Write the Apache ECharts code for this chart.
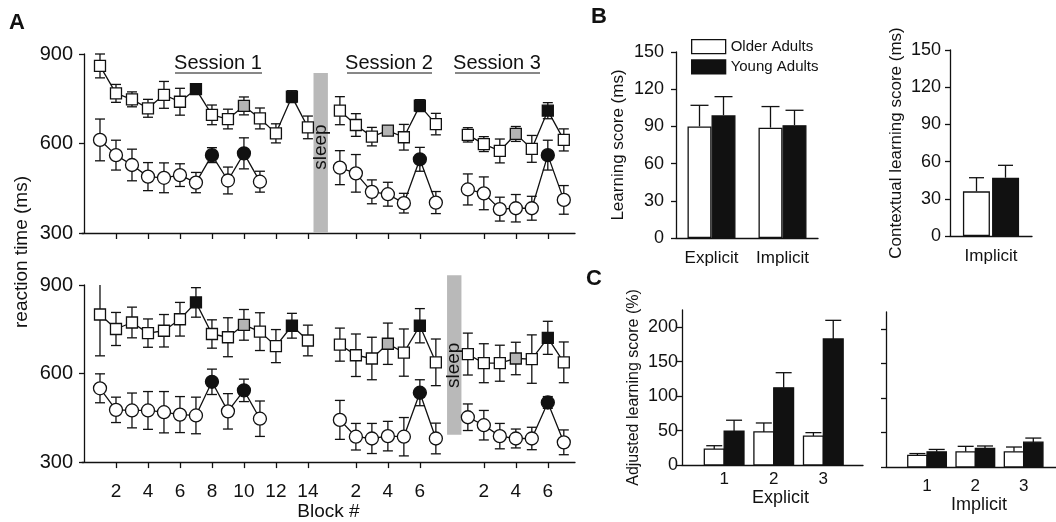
<!DOCTYPE html>
<html>
<head>
<meta charset="utf-8">
<script src="https://cdn.jsdelivr.net/npm/echarts@6/dist/echarts.min.js"></script>
<style>
  html, body { margin: 0; padding: 0; background: #fff; }
  #chart { width: 1056px; height: 522px; }
</style>
</head>
<body>
<div id="chart"></div>
<script>
// ---- data ----
// panel A: reaction time per block, squares (upper curve) and circles (lower curve)
const topSquareS1 = [860, 768, 748, 718, 763, 740, 782, 696, 682, 726, 684, 634, 757, 654];
const topSquareS1Err = [40, 30, 25, 30, 45, 45, 10, 33, 33, 30, 35, 32, 20, 38];
const topSquareS2 = [710, 662, 623, 643, 621, 727, 665];
const topSquareS2Err = [47, 38, 31, 15, 43, 20, 36];
const topSquareS3 = [629, 598, 575, 632, 582, 710, 612];
const topSquareS3Err = [24, 25, 40, 25, 45, 27, 37];
const topCircleS1 = [612, 561, 528, 489, 485, 494, 469, 561, 476, 567, 472];
const topCircleS1Err = [70, 50, 53, 47, 50, 38, 34, 25, 45, 52, 35];
const topCircleS2 = [519, 500, 438, 430, 400, 547, 402];
const topCircleS2Err = [57, 63, 40, 40, 33, 40, 37];
const topCircleS3 = [446, 433, 380, 383, 383, 561, 411];
const topCircleS3Err = [52, 55, 40, 46, 40, 50, 48];

const botSquareS1 = [800, 751, 773, 737, 745, 784, 841, 734, 723, 765, 742, 693, 762, 712];
const botSquareS1Err = [140, 56, 52, 48, 55, 57, 50, 48, 66, 52, 64, 56, 42, 52];
const botSquareS2 = [698, 662, 651, 701, 671, 762, 638];
const botSquareS2Err = [56, 72, 72, 70, 80, 58, 79];
const botSquareS3 = [666, 635, 635, 651, 649, 721, 638];
const botSquareS3Err = [71, 66, 61, 55, 82, 56, 69];
const botCircleS1 = [550, 477, 475, 475, 469, 461, 458, 572, 472, 543, 447];
const botCircleS1Err = [49, 43, 59, 64, 70, 61, 62, 43, 60, 38, 60];
const botCircleS2 = [443, 386, 380, 388, 386, 535, 380];
const botCircleS2Err = [66, 45, 51, 50, 65, 44, 52];
const botCircleS3 = [452, 425, 388, 380, 380, 502, 367];
const botCircleS3Err = [45, 50, 43, 32, 38, 20, 42];

// marker fill per block: o = open, b = black, g = grey
const squareFillS1 = ['o', 'o', 'o', 'o', 'o', 'o', 'b', 'o', 'o', 'g', 'o', 'o', 'b', 'o'];
const circleFillS1 = ['o', 'o', 'o', 'o', 'o', 'o', 'o', 'b', 'o', 'b', 'o'];
const squareFillS23 = ['o', 'o', 'o', 'g', 'o', 'b', 'o'];
const circleFillS23 = ['o', 'o', 'o', 'o', 'o', 'b', 'o'];

const blockTicks = [2, 4, 6, 8, 10, 12, 14];
const blockTicksShort = [2, 4, 6];

// panel B
const groupNames = ['Older Adults', 'Young Adults'];
const learnCats = ['Explicit', 'Implicit'];
const learnOlder = [90, 89];
const learnOlderErr = [17, 17];
const learnYoung = [99, 91];
const learnYoungErr = [15, 12];
const contextCats = ['Implicit'];
const contextOlder = [36];
const contextOlderErr = [11];
const contextYoung = [47];
const contextYoungErr = [10];

// panel C
const adjCats = [1, 2, 3];
const explicitOlder = [23, 48, 42];
const explicitOlderErr = [5, 13, 5];
const explicitYoung = [49, 112, 183];
const explicitYoungErr = [16, 22, 27];
const implicitOlder = [17, 22, 22];
const implicitOlderErr = [2.5, 8, 7];
const implicitYoung = [22, 27, 36];
const implicitYoungErr = [3.5, 3.5, 6];

// ---- layout / style ----
const FONT = "'Liberation Sans', Arial, Helvetica, sans-serif";
const INK = '#111';
const FILLS = { o: '#fff', b: '#111', g: '#b4b4b4' };
const sessionOffset = [0, 15, 23];   // sessions share one block axis, with gaps
const sleepTop = { x0: 14.35, x1: 15.25, lo: 300, hi: 836, textAt: 588 };
const sleepBottom = { x0: 22.7, x1: 23.6, lo: 393, hi: 933, textAt: 628 };

function blockPositions() {
  const pos = [];
  blockTicks.forEach(b => pos.push(b + sessionOffset[0]));
  blockTicksShort.forEach(b => pos.push(b + sessionOffset[1]));
  blockTicksShort.forEach(b => pos.push(b + sessionOffset[2]));
  return pos;
}
function blockLabel(pos) {
  if (pos > sessionOffset[2]) return String(pos - sessionOffset[2]);
  if (pos > sessionOffset[1]) return String(pos - sessionOffset[1]);
  return String(pos);
}

function lineSeries(axis, shape, session, means, fills) {
  return {
    type: 'line', xAxisIndex: axis, yAxisIndex: axis, z: 3,
    symbol: shape, symbolSize: shape === 'rect' ? 11 : 13,
    lineStyle: { color: INK, width: 1.3 },
    itemStyle: { color: '#fff', borderColor: INK, borderWidth: 1.3 },
    data: means.map((v, i) => ({
      value: [sessionOffset[session] + i + 1, v],
      itemStyle: { color: FILLS[fills[i]], borderColor: INK, borderWidth: 1.3 }
    }))
  };
}

// symmetric error bars for panel A, clipped at the top of the plot
function errSeries(axis, session, means, errs) {
  return {
    type: 'custom', xAxisIndex: axis, yAxisIndex: axis, z: 2,
    data: means.map((v, i) => [sessionOffset[session] + i + 1, v, errs[i]]),
    renderItem: function (params, api) {
      const x = api.value(0), m = api.value(1), e = api.value(2);
      const hi = api.coord([x, m + e]);
      const lo = api.coord([x, m - e]);
      const cs = params.coordSys;
      let yTop = hi[1], capTop = true;
      if (yTop < cs.y) { yTop = cs.y; capTop = false; }
      const st = { stroke: INK, lineWidth: 1.3 };
      const kids = [
        { type: 'line', shape: { x1: hi[0], y1: yTop, x2: lo[0], y2: lo[1] }, style: st },
        { type: 'line', shape: { x1: lo[0] - 5, y1: lo[1], x2: lo[0] + 5, y2: lo[1] }, style: st }
      ];
      if (capTop) kids.push({ type: 'line', shape: { x1: hi[0] - 5, y1: yTop, x2: hi[0] + 5, y2: yTop }, style: st });
      return { type: 'group', children: kids };
    }
  };
}

function sleepSeries(axis, s) {
  return {
    type: 'custom', xAxisIndex: axis, yAxisIndex: axis, z: 1,
    data: [[s.x0, s.x1, s.lo, s.hi, s.textAt]],
    renderItem: function (params, api) {
      const p0 = api.coord([api.value(0), api.value(3)]);
      const p1 = api.coord([api.value(1), api.value(2)]);
      const ty = api.coord([api.value(0), api.value(4)])[1];
      return {
        type: 'group',
        children: [
          { type: 'rect', shape: { x: p0[0], y: p0[1], width: p1[0] - p0[0], height: p1[1] - p0[1] },
            style: { fill: '#b9b9b9' } },
          { type: 'text', x: (p0[0] + p1[0]) / 2, y: ty, rotation: Math.PI / 2,
            style: { text: 'sleep', fill: INK, font: '19px ' + FONT, align: 'center', verticalAlign: 'middle' } }
        ]
      };
    }
  };
}

// one-sided error bars on top of bars; side = -1 (left bar) or +1 (right bar)
function barErrSeries(axis, values, errs, side, barW, capW) {
  return {
    type: 'custom', xAxisIndex: axis, yAxisIndex: axis, z: 1,
    data: values.map((v, i) => [i, v, errs[i]]),
    renderItem: function (params, api) {
      const top = api.coord([api.value(0), api.value(1)]);
      const end = api.coord([api.value(0), api.value(1) + api.value(2)]);
      const cx = top[0] + side * barW / 2;
      const st = { stroke: INK, lineWidth: 1.3 };
      return {
        type: 'group',
        children: [
          { type: 'line', shape: { x1: cx, y1: top[1], x2: cx, y2: end[1] }, style: st },
          { type: 'line', shape: { x1: cx - capW / 2, y1: end[1], x2: cx + capW / 2, y2: end[1] }, style: st }
        ]
      };
    }
  };
}

// bars for panel C drawn on a numeric x axis; width given in axis units
function adjBarSeries(axis, values, errs, side, fill) {
  const W = 0.4;
  return {
    type: 'custom', xAxisIndex: axis, yAxisIndex: axis, z: 2,
    data: values.map((v, i) => [adjCats[i], v, errs[i]]),
    renderItem: function (params, api) {
      const c = api.value(0), v = api.value(1), e = api.value(2);
      const x0 = side < 0 ? c - W : c, x1 = side < 0 ? c : c + W;
      const a = api.coord([x0, v]);
      const b = api.coord([x1, 0]);
      const t = api.coord([(x0 + x1) / 2, v + e]);
      const cx = (a[0] + b[0]) / 2;
      const st = { stroke: INK, lineWidth: 1.3 };
      return {
        type: 'group',
        children: [
          { type: 'line', shape: { x1: cx, y1: a[1], x2: cx, y2: t[1] }, style: st },
          { type: 'line', shape: { x1: cx - 8, y1: t[1], x2: cx + 8, y2: t[1] }, style: st },
          { type: 'rect', shape: { x: a[0], y: a[1], width: b[0] - a[0], height: b[1] - a[1] },
            style: { fill: fill, stroke: INK, lineWidth: 1.3 } }
        ]
      };
    }
  };
}

const axisLine = { show: true, lineStyle: { color: INK, width: 1.3 } };
const tickOut = { show: true, inside: false, length: 5, lineStyle: { color: INK, width: 1.3 } };
const lbl = (size, margin) => ({ color: INK, fontSize: size, fontFamily: FONT, margin: margin });

function rtY(idx) {
  return {
    type: 'value', gridIndex: idx, min: 300, max: 900, interval: 300,
    axisLine: axisLine, axisTick: tickOut, splitLine: { show: false },
    axisLabel: lbl(20, 9)
  };
}
function rtX(idx, withLabels) {
  const pos = blockPositions();
  return {
    type: 'value', gridIndex: idx, min: -0.125, max: 30.7,
    axisLine: axisLine, splitLine: { show: false },
    axisTick: Object.assign({}, tickOut, { length: 6, customValues: pos }),
    axisLabel: Object.assign(lbl(19, 20), { show: withLabels, customValues: pos, formatter: blockLabel })
  };
}

const chart = echarts.init(document.getElementById('chart'), null, { renderer: 'canvas' });

const series = [
  sleepSeries(0, sleepTop),
  sleepSeries(1, sleepBottom),

  errSeries(0, 0, topSquareS1, topSquareS1Err),
  errSeries(0, 1, topSquareS2, topSquareS2Err),
  errSeries(0, 2, topSquareS3, topSquareS3Err),
  errSeries(0, 0, topCircleS1, topCircleS1Err),
  errSeries(0, 1, topCircleS2, topCircleS2Err),
  errSeries(0, 2, topCircleS3, topCircleS3Err),
  lineSeries(0, 'rect', 0, topSquareS1, squareFillS1),
  lineSeries(0, 'rect', 1, topSquareS2, squareFillS23),
  lineSeries(0, 'rect', 2, topSquareS3, squareFillS23),
  lineSeries(0, 'circle', 0, topCircleS1, circleFillS1),
  lineSeries(0, 'circle', 1, topCircleS2, circleFillS23),
  lineSeries(0, 'circle', 2, topCircleS3, circleFillS23),

  errSeries(1, 0, botSquareS1, botSquareS1Err),
  errSeries(1, 1, botSquareS2, botSquareS2Err),
  errSeries(1, 2, botSquareS3, botSquareS3Err),
  errSeries(1, 0, botCircleS1, botCircleS1Err),
  errSeries(1, 1, botCircleS2, botCircleS2Err),
  errSeries(1, 2, botCircleS3, botCircleS3Err),
  lineSeries(1, 'rect', 0, botSquareS1, squareFillS1),
  lineSeries(1, 'rect', 1, botSquareS2, squareFillS23),
  lineSeries(1, 'rect', 2, botSquareS3, squareFillS23),
  lineSeries(1, 'circle', 0, botCircleS1, circleFillS1),
  lineSeries(1, 'circle', 1, botCircleS2, circleFillS23),
  lineSeries(1, 'circle', 2, botCircleS3, circleFillS23),

  // panel B
  { type: 'bar', name: groupNames[0], xAxisIndex: 2, yAxisIndex: 2, data: learnOlder, barWidth: 24, barGap: '0%', z: 2,
    itemStyle: { color: '#fff', borderColor: INK, borderWidth: 1.3 } },
  { type: 'bar', name: groupNames[1], xAxisIndex: 2, yAxisIndex: 2, data: learnYoung, barWidth: 24, barGap: '0%', z: 2,
    itemStyle: { color: INK, borderColor: INK, borderWidth: 1.3 } },
  barErrSeries(2, learnOlder, learnOlderErr, -1, 24, 18),
  barErrSeries(2, learnYoung, learnYoungErr, 1, 24, 18),
  { type: 'bar', name: groupNames[0], xAxisIndex: 3, yAxisIndex: 3, data: contextOlder, barWidth: 27, barGap: '8%', z: 2,
    itemStyle: { color: '#fff', borderColor: INK, borderWidth: 1.3 } },
  { type: 'bar', name: groupNames[1], xAxisIndex: 3, yAxisIndex: 3, data: contextYoung, barWidth: 27, barGap: '8%', z: 2,
    itemStyle: { color: INK, borderColor: INK, borderWidth: 1.3 } },
  barErrSeries(3, contextOlder, contextOlderErr, -1, 29, 15),
  barErrSeries(3, contextYoung, contextYoungErr, 1, 29, 15),

  // panel C
  adjBarSeries(4, explicitOlder, explicitOlderErr, -1, '#fff'),
  adjBarSeries(4, explicitYoung, explicitYoungErr, 1, INK),
  adjBarSeries(5, implicitOlder, implicitOlderErr, -1, '#fff'),
  adjBarSeries(5, implicitYoung, implicitYoungErr, 1, INK)
];

const option = {
  animation: false,
  backgroundColor: '#fff',
  textStyle: { fontFamily: FONT, color: INK },
  grid: [
    { left: 82, top: 54, width: 493, height: 179 },
    { left: 82, top: 285, width: 493, height: 181 },
    { left: 676, top: 52, width: 142, height: 186 },
    { left: 950, top: 50, width: 82, height: 186 },
    { left: 682, top: 310, width: 181, height: 155 },
    { left: 886, top: 312, width: 170, height: 155 }
  ],
  xAxis: [
    rtX(0, false),
    Object.assign(rtX(1, true), {
      name: 'Block #', nameLocation: 'middle', nameGap: 38,
      nameTextStyle: { fontSize: 19, color: INK, fontFamily: FONT }
    }),
    { type: 'category', gridIndex: 2, data: learnCats, axisLine: axisLine, axisTick: { show: false },
      axisLabel: Object.assign(lbl(17, 12), { interval: 0 }) },
    { type: 'category', gridIndex: 3, data: contextCats, axisLine: axisLine, axisTick: { show: false },
      axisLabel: Object.assign(lbl(17, 12), { interval: 0 }) },
    { type: 'value', gridIndex: 4, min: 0.15, max: 3.8, axisLine: axisLine, axisTick: { show: false },
      splitLine: { show: false },
      axisLabel: Object.assign(lbl(17, 6), { customValues: adjCats }),
      name: 'Explicit', nameLocation: 'middle', nameGap: 22,
      nameTextStyle: { fontSize: 18, color: INK, fontFamily: FONT, padding: [0, 0, 0, 16] } },
    { type: 'value', gridIndex: 5, min: 0.15, max: 3.67, axisLine: axisLine, axisTick: { show: false },
      splitLine: { show: false },
      axisLabel: Object.assign(lbl(17, 11), { customValues: adjCats }),
      name: 'Implicit', nameLocation: 'middle', nameGap: 28,
      nameTextStyle: { fontSize: 18, color: INK, fontFamily: FONT, padding: [0, 0, 0, 16] } }
  ],
  yAxis: [
    rtY(0),
    rtY(1),
    { type: 'value', gridIndex: 2, min: 0, max: 150, interval: 30, axisLine: axisLine, axisTick: tickOut,
      splitLine: { show: false }, axisLabel: lbl(18, 12),
      name: 'Learning score (ms)', nameLocation: 'middle', nameGap: 49,
      nameTextStyle: { fontSize: 17, color: INK, fontFamily: FONT } },
    { type: 'value', gridIndex: 3, min: 0, max: 150, interval: 30, axisLine: axisLine, axisTick: tickOut,
      splitLine: { show: false }, axisLabel: lbl(18, 9),
      name: 'Contextual learning score (ms)', nameLocation: 'middle', nameGap: 45,
      nameTextStyle: { fontSize: 17, color: INK, fontFamily: FONT } },
    { type: 'value', gridIndex: 4, min: 0, max: 225, axisLine: axisLine,
      axisTick: Object.assign({}, tickOut, { customValues: [0, 50, 100, 150, 200] }),
      splitLine: { show: false },
      axisLabel: Object.assign(lbl(18, 4), { customValues: [0, 50, 100, 150, 200] }),
      name: 'Adjusted learning score (%)', nameLocation: 'middle', nameGap: 40,
      nameTextStyle: { fontSize: 16, color: INK, fontFamily: FONT } },
    { type: 'value', gridIndex: 5, min: 0, max: 225, axisLine: axisLine,
      axisTick: Object.assign({}, tickOut, { customValues: [0, 50, 100, 150, 200] }),
      splitLine: { show: false }, axisLabel: { show: false } }
  ],
  legend: {
    left: 686, top: 34, orient: 'vertical', itemWidth: 34, itemHeight: 14, itemGap: 5,
    selectedMode: false,
    textStyle: { fontSize: 15, color: INK, fontFamily: FONT },
    data: [
      { name: groupNames[0], icon: 'rect', itemStyle: { color: '#fff', borderColor: INK, borderWidth: 1.3 } },
      { name: groupNames[1], icon: 'rect', itemStyle: { color: INK, borderColor: INK, borderWidth: 1.3 } }
    ]
  },
  graphic: [
    { type: 'text', left: 9, top: 12, style: { text: 'A', font: 'bold 22px ' + FONT, fill: INK } },
    { type: 'text', left: 591, top: 6, style: { text: 'B', font: 'bold 22px ' + FONT, fill: INK } },
    { type: 'text', left: 586, top: 268, style: { text: 'C', font: 'bold 22px ' + FONT, fill: INK } },
    { type: 'text', x: 22, y: 252, rotation: Math.PI / 2,
      style: { text: 'reaction time (ms)', font: '19px ' + FONT, fill: INK, align: 'center', verticalAlign: 'middle' } },
    { type: 'text', x: 218, y: 63, style: { text: 'Session 1', font: '20px ' + FONT, fill: INK, align: 'center', verticalAlign: 'middle' } },
    { type: 'line', shape: { x1: 175, y1: 73, x2: 262, y2: 73 }, style: { stroke: INK, lineWidth: 1 } },
    { type: 'text', x: 389, y: 63, style: { text: 'Session 2', font: '20px ' + FONT, fill: INK, align: 'center', verticalAlign: 'middle' } },
    { type: 'line', shape: { x1: 347, y1: 73, x2: 432, y2: 73 }, style: { stroke: INK, lineWidth: 1 } },
    { type: 'text', x: 497, y: 63, style: { text: 'Session 3', font: '20px ' + FONT, fill: INK, align: 'center', verticalAlign: 'middle' } },
    { type: 'line', shape: { x1: 455, y1: 73, x2: 540, y2: 73 }, style: { stroke: INK, lineWidth: 1 } }
  ],
  series: series
};

chart.setOption(option);
</script>
</body>
</html>
